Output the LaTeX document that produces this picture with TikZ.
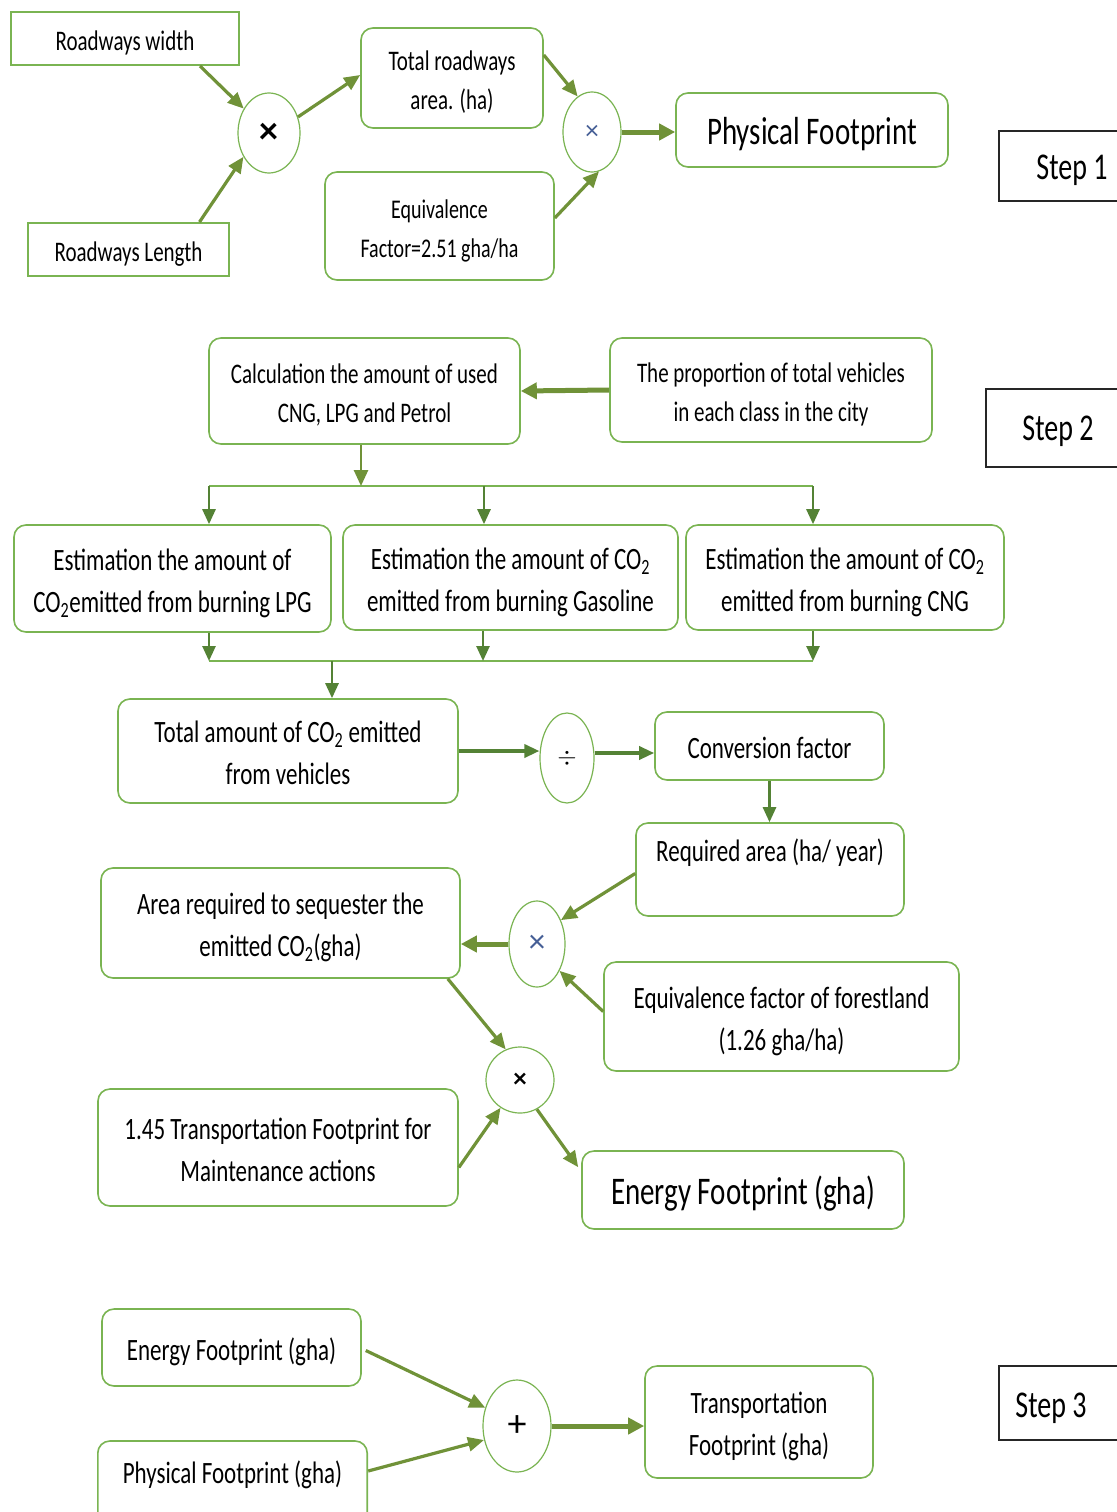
\documentclass[tikz,border=0pt]{standalone}
\usepackage{fontspec}
\setmainfont{Carlito}
\usepackage{graphicx}
\usetikzlibrary{arrows.meta,shapes.geometric,calc}
\definecolor{boxg}{RGB}{122,180,82}
\definecolor{arrg}{RGB}{112,146,56}
\definecolor{arrd}{RGB}{84,130,53}
\definecolor{opblue}{RGB}{70,95,150}
\newcommand{\vs}[1]{\raisebox{0pt}[\dimexpr\height+9pt\relax][\depth]{\scalebox{1}[1.35]{\begin{tabular}{@{}c@{}}#1\end{tabular}}}}
\begin{document}
\begin{tikzpicture}[x=1pt,y=-1pt,
  rbox/.style={draw=boxg, line width=1.6pt, rounded corners=12pt, inner sep=0pt, text=black,
    font=\fontsize{23}{31}\selectfont},
  sbox/.style={draw=boxg, line width=2pt, inner sep=0pt, text=black,
    font=\fontsize{21}{29}\selectfont},
  opnode/.style={ellipse, draw=boxg, line width=1.2pt, inner sep=0pt},
  arr/.style={draw=arrg, line width=3.2pt, -{Triangle[length=16pt,width=14pt]}},
  arrthick/.style={draw=arrg, line width=5pt, -{Triangle[length=16pt,width=16pt]}},
  arrv/.style={draw=arrd, line width=2.6pt, -{Triangle[length=15pt,width=13pt]}},
  bus/.style={draw=boxg, line width=2pt},
  steplbl/.style={inner sep=0pt, font=\fontsize{28}{34}\selectfont},
  stepframe/.style={draw=black!85, line width=1.8pt},
]
\useasboundingbox (0,0) rectangle (1116,1512);
\fill[white] (0,0) rectangle (1116,1512);

% ---------------- Step 1 ----------------
\node[sbox, minimum width=228pt, minimum height=53pt] (rw) at (125,38.5) {\vs{Roadways width}};
\node[sbox, minimum width=201pt, minimum height=53pt] (rl) at (128.5,249.5) {\vs{Roadways Length}};
\node[opnode, minimum width=62pt, minimum height=80pt] (c1) at (269,133)
  {\fontsize{38}{40}\selectfont\bfseries ×};
\node[rbox, font=\fontsize{21}{29}\selectfont, minimum width=182pt, minimum height=100pt] (tra) at (452,78)
  {\vs{Total roadways\\area. (ha)}};
\node[rbox, font=\fontsize{20}{29}\selectfont, minimum width=229pt, minimum height=108pt] (eq1) at (439.5,226)
  {\vs{Equivalence\\Factor=2.51 gha/ha}};
\node[opnode, minimum width=58pt, minimum height=80pt] (c2) at (592,132)
  {\fontsize{27}{30}\selectfont\color{opblue}×};
\node[rbox, font=\fontsize{29}{36}\selectfont, minimum width=272pt, minimum height=74pt] (phys) at (812,130)
  {\vs{Physical Footprint}};
\node[steplbl] (s1) at (1072,166) {\vs{Step 1}};
\draw[stepframe] (1117,131) -- (999,131) -- (999,201) -- (1117,201);

\draw[arr] ([xshift=75pt]rw.south) -- (c1.136);
\draw[arr] ([xshift=71pt]rl.north) -- (c1.223);
\draw[arr] (c1.29) -- ([yshift=3pt]tra.west);
\draw[arr] ([yshift=23pt]tra.east) -- (c2.112);
\draw[arr] ([yshift=8pt]eq1.east) -- (c2.-80);
\draw[arrthick] (c2.east) -- (c2.east -| phys.west);

% ---------------- Step 2 ----------------
\node[rbox, font=\fontsize{21}{29}\selectfont, minimum width=311pt, minimum height=106pt] (calc) at (364.5,391)
  {\vs{Calculation the amount of used\\CNG, LPG and Petrol}};
\node[rbox, font=\fontsize{21}{29}\selectfont, minimum width=322pt, minimum height=104pt] (prop) at (771,390)
  {\vs{The proportion of total vehicles\\in each class in the city}};
\node[steplbl] (s2) at (1058,427) {\vs{Step 2}};
\draw[stepframe] (1117,389) -- (986,389) -- (986,467) -- (1117,467);
\draw[arrthick] (prop.west) -- (calc.east);

\coordinate (bA) at (361,486);
\coordinate (bL) at (209,486);
\coordinate (bM) at (484,486);
\coordinate (bR) at (813,486);
\draw[bus] (bL) -- (bR);
\draw[arr, line width=2.6pt] (bA |- calc.south) -- (bA);

\node[rbox, minimum width=317pt, minimum height=107pt] (lpg) at (172.5,578.5)
  {\vs{Estimation the amount of\\CO\textsubscript{2}emitted from burning LPG}};
\node[rbox, minimum width=335pt, minimum height=105pt] (gas) at (510.5,577.5)
  {\vs{Estimation the amount of CO\textsubscript{2}\\emitted from burning Gasoline}};
\node[rbox, minimum width=318pt, minimum height=105pt] (cng) at (845,577.5)
  {\vs{Estimation the amount of CO\textsubscript{2}\\emitted from burning CNG}};

\draw[arrv] (bL) -- (bL |- lpg.north);
\draw[arrv] (bM) -- (bM |- gas.north);
\draw[arrv] (bR) -- (bR |- cng.north);

\coordinate (dL) at (209,661);
\coordinate (dM) at (483,661);
\coordinate (dR) at (813,661);
\coordinate (dC) at (332,661);
\draw[bus] (dL) -- (dR);
\draw[arrv] (dL |- lpg.south) -- (dL);
\draw[arrv] (dM |- gas.south) -- (dM);
\draw[arrv] (dR |- cng.south) -- (dR);

\node[rbox, minimum width=340pt, minimum height=104pt] (tot) at (288,751)
  {\vs{Total amount of CO\textsubscript{2} emitted\\from vehicles}};
\draw[arrv] (dC) -- (dC |- tot.north);

\node[opnode, minimum width=54pt, minimum height=90pt] (div) at (567,758)
  {\fontsize{30}{32}\selectfont $\div$};
\node[rbox, minimum width=229pt, minimum height=68pt] (conv) at (769.5,746)
  {\vs{Conversion factor}};
\draw[arrv, line width=3.4pt] (tot.east) -- (tot.east -| div.west);
\draw[arrv, line width=3.4pt] ([yshift=5pt]div.east) -- ([yshift=5pt]div.east -| conv.west);

\node[rbox, minimum width=268pt, minimum height=93pt] (req) at (770,869.5)
  {\vs{Required area (ha/ year)\\~}};
\draw[arrv] (conv.south) -- (conv.south |- req.north);

\node[opnode, minimum width=56pt, minimum height=86pt] (c3) at (537,944)
  {\fontsize{33}{36}\selectfont\color{opblue}×};
\node[rbox, minimum width=355pt, minimum height=109pt] (eqf) at (781.5,1016.5)
  {\vs{Equivalence factor of forestland\\(1.26 gha/ha)}};
\node[rbox, minimum width=359pt, minimum height=110pt] (area) at (280.5,923)
  {\vs{Area required to sequester the\\emitted CO\textsubscript{2}(gha)}};
\draw[arr] ([yshift=-4pt]req.west) -- (c3.45);
\draw[arr] ([yshift=5pt]eqf.west) -- (c3.-50);
\draw[arrthick] (c3.west) -- (c3.west -| area.east);

\node[opnode, minimum width=68pt, minimum height=66pt] (c4) at (520,1080)
  {\fontsize{27}{30}\selectfont\bfseries ×};
\node[rbox, minimum width=360pt, minimum height=117pt] (maint) at (278,1147.5)
  {\vs{1.45 Transportation Footprint for\\Maintenance actions}};
\node[rbox, font=\fontsize{29}{36}\selectfont, minimum width=322pt, minimum height=78pt] (ef) at (743,1190)
  {\vs{Energy Footprint (gha)}};
\draw[arr] ([xshift=-13pt]area.south east) -- (c4.115);
\draw[arr] ([yshift=-20pt]maint.east) -- (c4.235);
\draw[arr] (c4.-60) -- ([yshift=-17pt,xshift=-3pt]ef.north west);

% ---------------- Step 3 ----------------
\node[rbox, minimum width=259pt, minimum height=77pt] (ef2) at (231.5,1347.5)
  {\vs{Energy Footprint (gha)}};
\node[inner sep=0pt, font=\fontsize{23}{31}\selectfont, minimum width=269pt, minimum height=60pt] (pf2) at (232.5,1471)
  {\vs{Physical Footprint (gha)}};
\draw[draw=boxg, line width=1.6pt, rounded corners=12pt] (pf2.west |- 0,1513) -- (pf2.west |- 0,1441) -- (pf2.east |- 0,1441) -- (pf2.east |- 0,1513);
\node[opnode, minimum width=68pt, minimum height=92pt] (plus) at (517,1426)
  {\fontsize{38}{40}\selectfont +};
\node[rbox, minimum width=228pt, minimum height=112pt] (tf) at (759,1422)
  {\vs{Transportation\\Footprint (gha)}};
\node[steplbl] (s3) at (1051,1404) {\vs{Step 3}};
\draw[stepframe] (1117,1366) -- (999,1366) -- (999,1440) -- (1117,1440);

\draw[arr] ([yshift=-3pt,xshift=4pt]ef2.east) -- (plus.150);
\draw[arr] ([xshift=1pt]pf2.east) -- (plus.203);
\draw[arrthick] (plus.east) -- (plus.east -| tf.west);
\end{tikzpicture}
\end{document}
